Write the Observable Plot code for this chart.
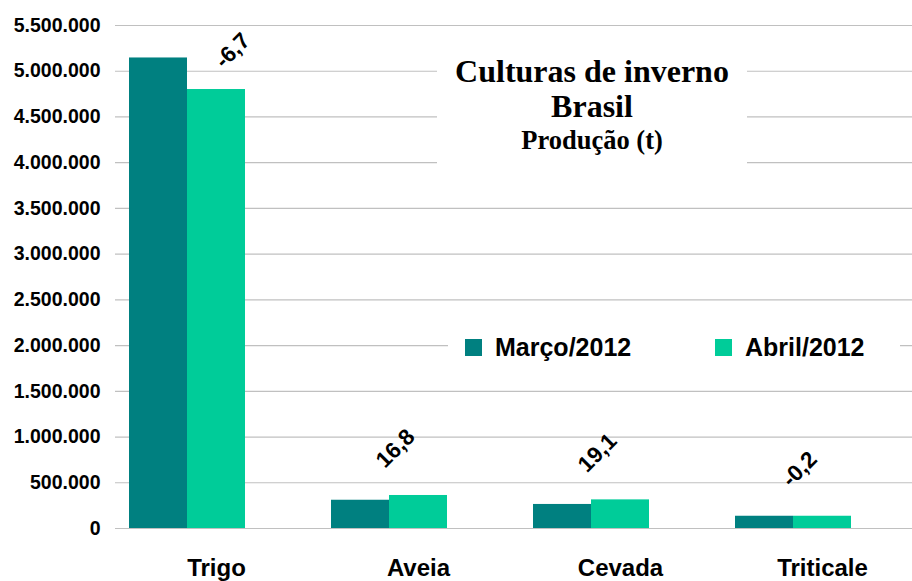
<!DOCTYPE html>
<html><head><meta charset="utf-8">
<script src="https://cdn.jsdelivr.net/npm/d3@7"></script>
<script src="https://cdn.jsdelivr.net/npm/@observablehq/plot@0.6"></script>
<style>
body{margin:0;background:#fff;}
#wrap{position:relative;width:912px;height:581px;overflow:hidden;font-family:"Liberation Sans",Arial,sans-serif;}
#title{position:absolute;left:437px;top:46px;width:310px;height:120px;background:#fff;text-align:center;font-family:"Liberation Serif","Times New Roman",serif;font-weight:bold;color:#000;}
#title .t1{position:absolute;left:0;right:0;top:7px;font-size:32px;line-height:36px;}
#title .t2{position:absolute;left:0;right:0;top:42px;font-size:32px;line-height:36px;}
#title .t3{position:absolute;left:0;right:0;top:79px;font-size:26.5px;line-height:30px;}
#legend{position:absolute;left:448px;top:326px;width:452px;height:42px;background:#fff;font-weight:bold;font-size:25px;color:#000;}
.item{position:absolute;top:0;height:42px;display:flex;align-items:center;}
.sw{width:17px;height:17px;margin-right:13px;}
</style></head><body><div id="wrap"></div>
<script>
const categories = ["Trigo", "Aveia", "Cevada", "Triticale"];
const series = ["Março/2012", "Abril/2012"];
const marco = [5145000, 309000, 263000, 134000];
const abril = [4800000, 361000, 313000, 134000];
const variacao = ["-6,7", "16,8", "19,1", "-0,2"];
const yTicks = [0, 500000, 1000000, 1500000, 2000000, 2500000, 3000000, 3500000, 4000000, 4500000, 5000000, 5500000];
const colors = ["#008080", "#00CC99"];
const titleLines = ["Culturas de inverno", "Brasil", "Produção (t)"];

const fmt = d3.formatLocale({decimal: ",", thousands: ".", grouping: [3], currency: ["", ""]}).format(",d");

const rows = categories.flatMap((c, i) => [
  {cat: c, serie: series[0], value: marco[i]},
  {cat: c, serie: series[1], value: abril[i]}
]);
const labels = categories.map((c, i) => ({cat: c, serie: series[1], value: abril[i], text: variacao[i]}));

const chart = Plot.plot({
  width: 912, height: 581,
  marginLeft: 115, marginRight: 0, marginTop: 25, marginBottom: 53,
  style: {fontFamily: "Liberation Sans, Arial, sans-serif", fontWeight: "bold", color: "#000", background: "#fff", overflow: "hidden"},
  fx: {domain: categories, range: [115, 923], padding: 0, label: null},
  x: {domain: [...series, "_"], paddingInner: 0, paddingOuter: 0.24, axis: null},
  y: {domain: [0, 5500000], label: null},
  color: {domain: series, range: colors},
  marks: [
    Plot.gridY(yTicks, {stroke: "#c0c0c0", strokeOpacity: 1, strokeWidth: 1.2}),
    Plot.axisY(yTicks, {tickSize: 0, tickPadding: 15, tickFormat: fmt, fontSize: 19.5, label: null}),
    Plot.axisFx({anchor: "bottom", tickSize: 0, tickPadding: 30, fontSize: 24, label: null}),
    Plot.barY(rows, {fx: "cat", x: "serie", y: "value", fill: "serie"}),
    Plot.text(labels.filter(d => d.cat === "Trigo"), {fx: "cat", x: "serie", y: "value", text: "text", rotate: -45, dx: 16, dy: -39, fontSize: 22.5, fontWeight: "bold", fill: "#000"}),
    Plot.text(labels.filter(d => d.cat !== "Trigo"), {fx: "cat", x: "serie", y: "value", text: "text", rotate: -45, dx: -23, dy: -47, fontSize: 22.5, fontWeight: "bold", fill: "#000"})
  ]
});

const wrap = document.getElementById("wrap");
wrap.appendChild(chart);

const title = document.createElement("div");
title.id = "title";
titleLines.forEach((t, i) => {
  const d = document.createElement("div");
  d.className = "t" + (i + 1);
  d.textContent = t;
  title.appendChild(d);
});
wrap.appendChild(title);

const legend = document.createElement("div");
legend.id = "legend";
const lefts = [17, 267];
series.forEach((s, i) => {
  const it = document.createElement("div");
  it.className = "item";
  it.style.left = lefts[i] + "px";
  const sw = document.createElement("span");
  sw.className = "sw";
  sw.style.background = colors[i];
  const tx = document.createElement("span");
  tx.textContent = s;
  it.appendChild(sw);
  it.appendChild(tx);
  legend.appendChild(it);
});
wrap.appendChild(legend);
</script></body></html>
